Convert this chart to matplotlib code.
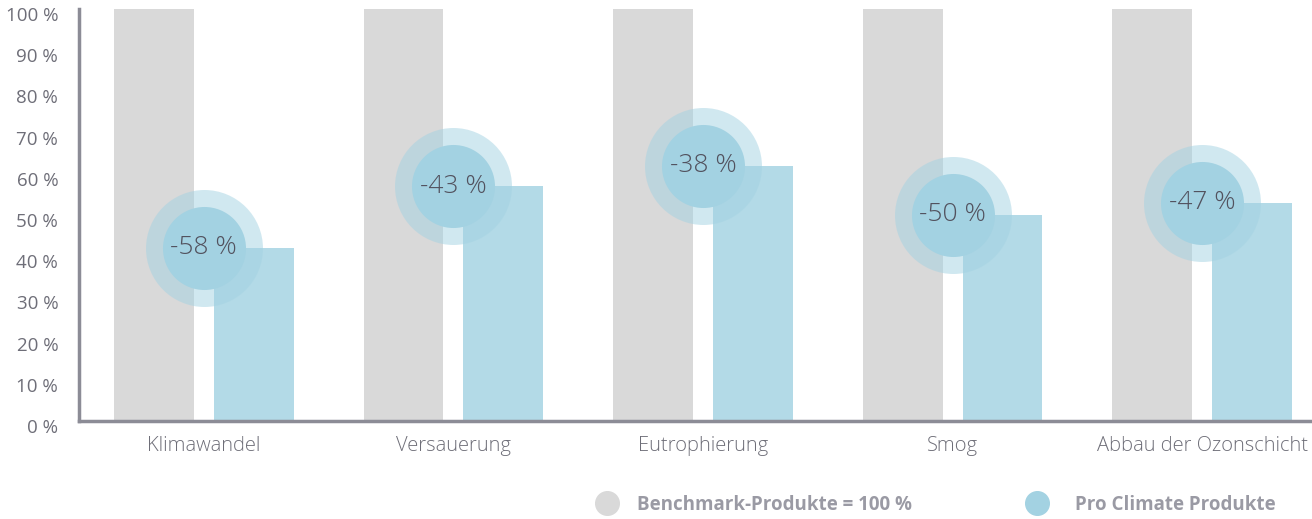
import matplotlib
matplotlib.use("Agg")
import matplotlib.pyplot as plt
import numpy as np
from matplotlib.transforms import ScaledTranslation
from matplotlib.lines import Line2D

categories = ["Klimawandel", "Versauerung", "Eutrophierung", "Smog", "Abbau der Ozonschicht"]
benchmark = [100, 100, 100, 100, 100]
pro_climate = [42, 57, 62, 50, 53]
reduction_labels = ["-58 %", "-43 %", "-38 %", "-50 %", "-47 %"]
y_ticks = [0, 10, 20, 30, 40, 50, 60, 70, 80, 90, 100]
y_tick_labels = [f"{v} %" for v in y_ticks]
legend_labels = ["Benchmark-Produkte = 100 %", "Pro Climate Produkte"]

GRAY = "#d9d9d9"
BLUE = "#b3dae7"
CIRCLE = "#a3d2e2"
AXIS = "#8c8c96"
TXT = "#6e6e78"

plt.rcParams['font.family'] = ['Open Sans', 'DejaVu Sans']

fig = plt.figure(figsize=(13.12, 5.19), dpi=100)
ax = fig.add_axes([0.0602, 0.1888, 0.9398, 0.7939])

x = np.arange(len(categories))
w = 0.32
ax.bar(x - 0.2, benchmark, width=w, color=GRAY, zorder=1)
ax.bar(x + 0.2, pro_climate, width=w, color=BLUE, zorder=1)

# circles
ax.scatter(x, pro_climate, s=7096, color=CIRCLE, alpha=0.5, linewidths=0, zorder=2)
ax.scatter(x, pro_climate, s=3574, color=CIRCLE, alpha=1.0, linewidths=0, zorder=3)
for xi, yi, lab in zip(x, pro_climate, reduction_labels):
    ax.text(xi, yi, lab, ha='center', va='center', fontsize=19, color="#52525e",
            fontweight='light', zorder=4)

ax.set_xlim(-0.5, 4.44)
ax.set_ylim(0, 100)
for s in ['top', 'right']:
    ax.spines[s].set_visible(False)
for s in ['left', 'bottom']:
    ax.spines[s].set_color(AXIS)
    ax.spines[s].set_linewidth(2.5)

ax.set_yticks(y_ticks)
ax.set_yticklabels(y_tick_labels, fontsize=13.5, color=TXT)
ax.tick_params(axis='y', length=0, pad=15)
off = ScaledTranslation(0, -5 / 100, fig.dpi_scale_trans)
for lab in ax.get_yticklabels():
    lab.set_transform(lab.get_transform() + off)

ax.set_xticks(x)
ax.set_xticklabels(categories, fontsize=14.5, color=TXT, fontweight='light')
ax.tick_params(axis='x', length=0, pad=11)

# legend (manual)
fig.add_artist(Line2D([607 / 1312], [1 - 503 / 519], marker='o', markersize=17,
                      color=GRAY, linestyle='none', transform=fig.transFigure))
fig.text(637 / 1312, 1 - 505 / 519, legend_labels[0], fontsize=13.5, fontweight='bold',
         color="#9a9aa4", va='center', ha='left')
fig.add_artist(Line2D([1037 / 1312], [1 - 503 / 519], marker='o', markersize=17,
                      color=CIRCLE, linestyle='none', transform=fig.transFigure))
fig.text(1075 / 1312, 1 - 505 / 519, legend_labels[1], fontsize=13.5, fontweight='bold',
         color="#9a9aa4", va='center', ha='left')

fig.savefig("out.png", dpi=100)
